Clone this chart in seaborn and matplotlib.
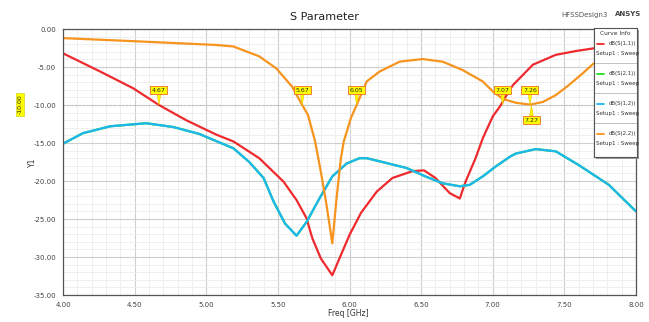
import numpy as np
import pandas as pd
import matplotlib
matplotlib.use("Agg")
import matplotlib.pyplot as plt
import seaborn as sns
from matplotlib.lines import Line2D
from matplotlib.patches import Rectangle

# ---------------- data ----------------
s11_freq = [4.00, 4.26, 4.49, 4.67, 4.86, 5.07, 5.19, 5.37, 5.54, 5.63, 5.70, 5.74, 5.80, 5.88,
            5.95, 6.00, 6.08, 6.19, 6.30, 6.44, 6.52, 6.60, 6.70, 6.77, 6.81, 6.88, 6.93, 7.00,
            7.05, 7.09, 7.14, 7.28, 7.44, 7.58, 7.72, 7.86, 8.00]
s11_db = [-3.2, -5.6, -7.8, -10.0, -12.0, -13.9, -14.8, -17.0, -20.1, -22.5, -24.9, -27.5, -30.2, -32.4,
          -29.3, -27.1, -24.2, -21.4, -19.6, -18.7, -18.6, -19.6, -21.6, -22.3, -20.1, -17.0, -14.4, -11.5,
          -10.2, -8.9, -7.4, -4.7, -3.4, -2.9, -2.5, -2.2, -2.0]

s22_freq = [4.00, 4.49, 5.07, 5.19, 5.37, 5.49, 5.60, 5.67, 5.71, 5.76, 5.80, 5.84, 5.88, 5.91,
            5.94, 5.96, 6.01, 6.05, 6.12, 6.21, 6.35, 6.51, 6.65, 6.79, 6.93, 7.00, 7.07, 7.16,
            7.26, 7.35, 7.44, 7.53, 7.63, 7.70, 7.85, 8.00]
s22_db = [-1.2, -1.6, -2.1, -2.3, -3.6, -5.2, -7.6, -10.0, -11.3, -14.8, -18.8, -23.2, -28.2, -22.2,
          -17.0, -14.8, -11.7, -10.0, -6.9, -5.6, -4.3, -3.95, -4.3, -5.4, -6.9, -8.2, -9.2, -9.7,
          -9.95, -9.6, -8.7, -7.4, -5.8, -4.6, -3.2, -2.4]

s12_freq = [4.00, 4.14, 4.33, 4.58, 4.77, 4.95, 5.19, 5.30, 5.40, 5.47, 5.55, 5.63, 5.70, 5.79,
            5.88, 5.98, 6.07, 6.12, 6.23, 6.40, 6.53, 6.65, 6.77, 6.84, 6.93, 7.02, 7.12, 7.16,
            7.30, 7.44, 7.60, 7.81, 8.00]
s12_db = [-15.1, -13.7, -12.8, -12.4, -12.9, -13.8, -15.7, -17.5, -19.6, -22.7, -25.6, -27.2, -25.4, -22.3,
          -19.4, -17.7, -17.0, -17.0, -17.5, -18.3, -19.4, -20.3, -20.7, -20.5, -19.4, -18.1, -16.8, -16.4,
          -15.8, -16.1, -17.9, -20.5, -24.0]
# S(2,1) equals S(1,2) for this reciprocal structure (hidden under the blue trace)
s21_freq = list(s12_freq)
s21_db = list(s12_db)

trace_names = ["dB(S(1,1))", "dB(S(2,1))", "dB(S(1,2))", "dB(S(2,2))"]
trace_colors = ["#EE2A2E", "#22DD22", "#1EB6F0", "#F7941E"]

marker_freqs = [4.67, 5.67, 6.05, 7.07, 7.26, 7.27]
marker_labels = ["4.67", "5.67", "6.05", "7.07", "7.26", "7.27"]
marker_level = -10.0

x_ticks = [4.00, 4.50, 5.00, 5.50, 6.00, 6.50, 7.00, 7.50, 8.00]
y_ticks = [0.0, -5.0, -10.0, -15.0, -20.0, -25.0, -30.0, -35.0]

# ---------------- build long table ----------------
frames = []
for name, fr, db in zip(trace_names,
                        [s11_freq, s21_freq, s12_freq, s22_freq],
                        [s11_db, s21_db, s12_db, s22_db]):
    frames.append(pd.DataFrame({"Freq": fr, "dB": db, "trace": name}))
df = pd.concat(frames, ignore_index=True)

sns.set_style("white")
plt.rcParams["font.family"] = ["DejaVu Sans"]

W, H = 649, 322
fig = plt.figure(figsize=(W / 100, H / 100), dpi=100)
left, right, top, bottom = 63, 636, 29, 295
ax = fig.add_axes([left / W, 1 - bottom / H, (right - left) / W, (bottom - top) / H])

sns.lineplot(data=df, x="Freq", y="dB", hue="trace", hue_order=trace_names,
             palette=trace_colors, sort=False, estimator=None, linewidth=1.6,
             legend=False, ax=ax)

ax.set_xlim(4.0, 8.0)
ax.set_ylim(-35.0, 0.0)
ax.set_xticks(x_ticks)
ax.set_xticklabels([f"{v:.2f}" for v in x_ticks])
ax.set_yticks(y_ticks)
ax.set_yticklabels([f"{v:.2f}" for v in y_ticks])
ax.set_xticks(np.arange(4.0, 8.001, 0.1), minor=True)
ax.set_yticks(np.arange(-35.0, 0.001, 1.0), minor=True)
ax.grid(which="major", color="#cfcfcf", linewidth=0.8)
ax.grid(which="minor", color="#ececec", linewidth=0.6)
ax.set_axisbelow(True)
ax.tick_params(which="major", direction="out", length=3, width=0.8, colors="#444444",
               labelsize=5, labelcolor="#444444", pad=2)
ax.tick_params(which="minor", direction="out", length=2, width=0.5, colors="#666666")
for s in ax.spines.values():
    s.set_color("#555555")
    s.set_linewidth(0.9)

ax.axhline(marker_level, color="#bdbdbd", linestyle=(0, (2, 2)), linewidth=0.7, zorder=1)

ax.set_xlabel("Freq [GHz]", fontsize=5.5, color="#333333")
ax.set_ylabel("Y1", fontsize=5.5, color="#333333")
ax.xaxis.set_label_coords((348 - left) / (right - left), -(309 - bottom) / (bottom - top))
ax.yaxis.set_label_coords(-(left - 37) / (right - left), (bottom - 162) / (bottom - top))
fig.text(0.5, 1 - 17 / H, "S Parameter", ha="center", va="center", fontsize=8, color="#222222")
fig.text(585 / W, 1 - 15 / H, "HFSSDesign3", ha="center", va="center", fontsize=5, color="#555555")
fig.text(628 / W, 1 - 14 / H, "ANSYS", ha="center", va="center", fontsize=5, color="#444444",
         fontweight="bold")

# marker tags
for i, (mx, lab) in enumerate(zip(marker_freqs, marker_labels)):
    below = (i == len(marker_freqs) - 1)
    dy = -9 if below else 9
    edge = "#EE6A2E"
    ax.annotate(lab, xy=(mx, marker_level), xytext=(0, dy), textcoords="offset points",
                ha="center", va="top" if below else "bottom", fontsize=4.5, color="#222222",
                bbox=dict(boxstyle="square,pad=0.25", fc="#FFFF00", ec=edge, lw=0.6),
                arrowprops=dict(arrowstyle="wedge,tail_width=0.6,shrink_factor=0.5",
                                fc="#FFFF00", ec="#E8C000", lw=0.4, shrinkA=0, shrinkB=0),
                zorder=6)

# y-axis marker tag
fig.text(20 / W, 1 - 104.5 / H, "-10.00", rotation=90, ha="center", va="center", fontsize=4.5,
         color="#222222", bbox=dict(boxstyle="square,pad=0.25", fc="#FFFF00", ec="#C8C800", lw=0.4))

# ---------------- curve info box ----------------
bx0, bx1, by0, by1 = 594, 637, 28, 157
fig.add_artist(Rectangle(((bx0 + 2) / W, 1 - (by1 + 2) / H), (bx1 - bx0) / W, (by1 - by0) / H,
                         transform=fig.transFigure, fc="#9a9a9a", ec="none", zorder=9))
lax = fig.add_axes([bx0 / W, 1 - by1 / H, (bx1 - bx0) / W, (by1 - by0) / H], zorder=10)
lax.set_xlim(bx0, bx1)
lax.set_ylim(by1, by0)
lax.set_xticks([])
lax.set_yticks([])
lax.set_facecolor("white")
for s in lax.spines.values():
    s.set_color("#555555")
    s.set_linewidth(0.8)
lax.text((bx0 + bx1) / 2, 33.5, "Curve Info", ha="center", va="center", fontsize=4.2, color="#333333")
for k, (name, col) in enumerate(zip(trace_names, trace_colors)):
    yy = 43.5 + 30 * k
    lax.add_line(Line2D([597, 604], [yy, yy], color=col, lw=1.3))
    lax.text(636, yy, name, ha="right", va="center", fontsize=3.9, color="#333333")
    lax.text(596, yy + 10, "Setup1 : Sweep", ha="left", va="center", fontsize=4.0, color="#333333")
    if k < 3:
        lax.add_line(Line2D([bx0, bx1], [yy + 19.5, yy + 19.5], color="#aaaaaa", lw=0.5))

fig.savefig("out.png", dpi=100, facecolor="white")
